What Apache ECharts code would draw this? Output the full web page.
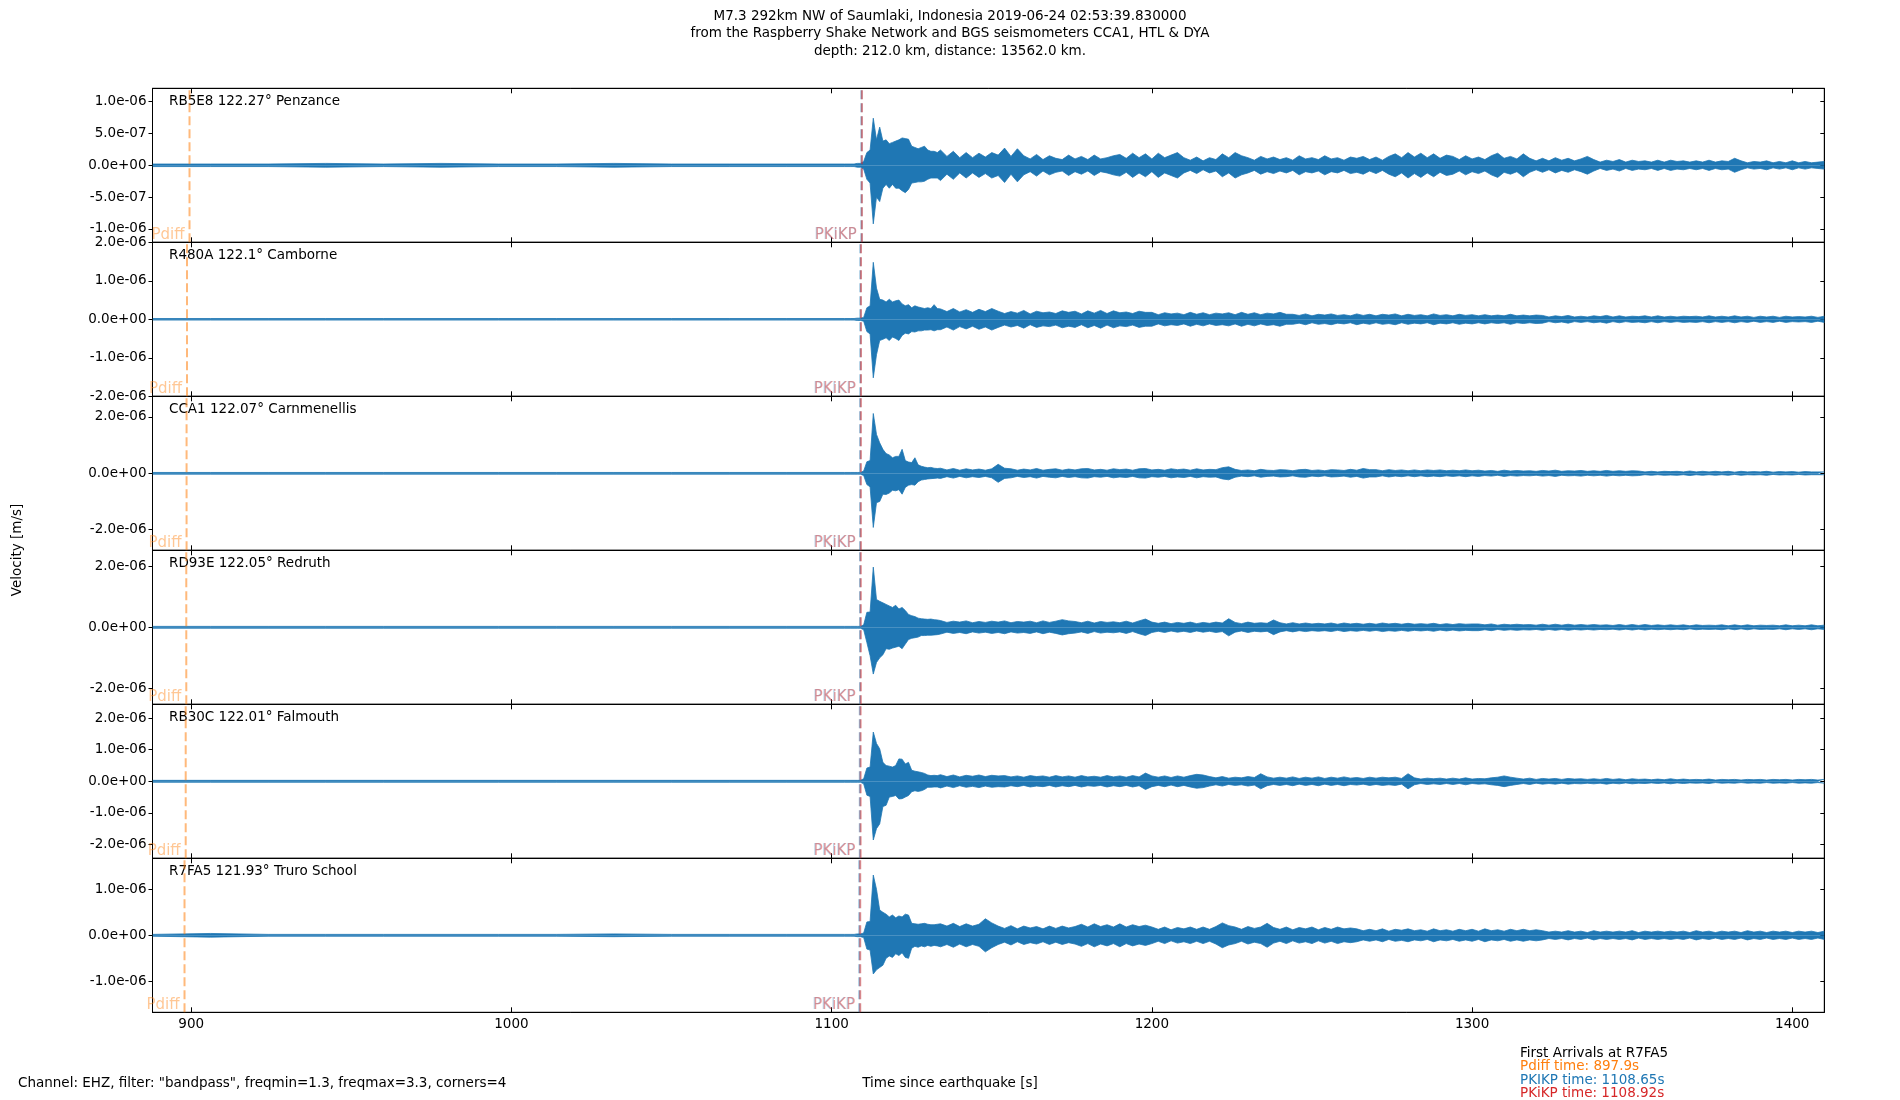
<!DOCTYPE html>
<html>
<head>
<meta charset="utf-8">
<script src="https://cdn.jsdelivr.net/npm/echarts@6/dist/echarts.min.js"></script>
<style>
html, body { margin: 0; padding: 0; background: #fff; }
#chart { width: 1900px; height: 1100px; }
</style>
</head>
<body>
<div id="chart"></div>
<script>
// stations, top to bottom
var stations = ['RB5E8 122.27\u00b0 Penzance', 'R480A 122.1\u00b0 Camborne', 'CCA1 122.07\u00b0 Carnmenellis',
                'RD93E 122.05\u00b0 Redruth', 'RB30C 122.01\u00b0 Falmouth', 'R7FA5 121.93\u00b0 Truro School'];
// arrival times [s]
var pdiffT = [899.46, 898.68, 898.54, 898.45, 898.27, 897.9];
var pkikpT = [1109.30, 1108.97, 1108.91, 1108.88, 1108.80, 1108.65];
var pkikp2T = [1109.45, 1109.17, 1109.13, 1109.10, 1109.04, 1108.92];
// y limits and ticks [m/s]
var yLim = [1.21e-6, 2.0e-6, 2.73e-6, 2.52e-6, 2.44e-6, 1.674e-6];
var yTicks = [
    [-1e-6, -5e-7, 0, 5e-7, 1e-6],
    [-2e-6, -1e-6, 0, 1e-6, 2e-6],
    [-2e-6, 0, 2e-6],
    [-2e-6, 0, 2e-6],
    [-2e-6, -1e-6, 0, 1e-6, 2e-6],
    [-1e-6, 0, 1e-6]
];
var xTicks = [900, 1000, 1100, 1200, 1300, 1400];
var xMin = 887.9, xMax = 1410;

// waveform envelopes, units of 1e-8 m/s
// pre-event noise, every 18 s from 888 s
var pre1 = [2,2,2,3,2,3,2,2,3,2,2,2,2];
var pre2 = [2,2,2,2,2,2,2,2,2,2,2,2,2];
var pre3 = [3,3,3,3,3,3,3,3,3,3,3,3,3];
var pre4 = [3,3,3,3,3,3,3,3,3,3,3,3,3];
var pre5 = [3,3,3,3,3,3,3,3,3,3,3,3,3];
var pre6 = [2,4,2,2,2,2,2,2,3,2,2,2,2];
// onset, every 1 s from 1106 s: upper and lower peaks
var hi1 = [2,2,3,3,6,20,24,74,40,60,38,40,34,36,38,40,43,42,41,30,28,26,28,30,24,22,22,20];
var lo1 = [2,2,3,3,6,22,28,92,50,57,36,30,36,30,36,36,40,43,38,28,27,26,26,25,22,20,20,20];
var hi2 = [2,2,3,3,5,30,35,148,81,52,50,45,52,45,48,50,40,35,38,30,35,32,30,28,30,28,38,28];
var lo2 = [2,2,3,3,5,32,38,152,92,55,52,48,55,46,50,55,42,36,38,32,33,30,30,28,28,27,30,27];
var hi3 = [3,3,3,3,8,41,45,212,138,108,85,70,65,55,60,60,85,45,40,38,55,30,25,22,20,21,18,17];
var lo3 = [3,3,3,3,8,40,48,192,104,100,74,75,70,60,62,58,74,50,42,40,42,30,24,22,20,19,18,17];
var hi4 = [3,3,3,3,8,49,50,197,91,85,80,75,70,65,72,60,65,55,42,38,35,30,28,27,26,27,25,24];
var lo4 = [3,3,3,3,8,50,93,153,115,100,90,70,72,68,65,62,70,55,40,36,34,32,27,27,26,26,25,24];
var hi5 = [3,3,3,3,8,42,45,156,120,103,60,50,48,45,50,71,70,55,60,35,32,30,28,25,20,18,19,18];
var lo5 = [3,3,3,3,8,44,48,186,150,135,80,76,50,48,45,56,55,50,45,33,30,32,30,26,19,19,18,18];
var hi6 = [2,2,3,3,5,29,30,131,100,55,50,46,40,44,38,42,40,46,44,26,25,24,25,26,24,23,23,24];
var lo6 = [2,2,3,3,5,30,32,84,75,70,65,50,45,48,40,44,38,48,50,28,24,26,23,25,22,24,22,23];
// coda, every 2 s from 1134 s
var coda1 = [24,14,22,12,20,12,19,13,20, 16,27,14,26,
    15,10,17,9,15,11,9,16,10,14,9,16,10,12,15, 17,11,19,12,18,10,19,12,16, 20,
    12,8,13,7,12,9, 18,12,20,15,
    12,8,14,10,13,9,12,8,15,10,12,9,15,10,12,8,13,11,14,9,13,8,14,
    18,12,20,13,19,12,18,11,16, 14,9,15,10,13,9,15, 19, 11,14,10, 18,
    11,7,11,7,12,8,11,7,10, 14,
    9,5,8,6,9,5,8,6,7,5,8,5,8,6,7,5,7,5,8,5,7,6, 11,
    7,4,6,5,7,4,6,4,7,4,6,4,5,6];
var coda2 = [27,20,28,19,25,18,26,20,28,
    21,15,20,16,23,14,21,17,19,15,22,18,21,14,22,16,23,15,22,17,19,15,21,18,
    18,12,17,14,16,12,18,13,17,12,16,14,17,12,18,13,17,12,16,14,18,13,
    13,10,14,9,13,11,14,10,12,9,14,10,13,9,13,11,14,9,13,10,12,9,14,10,12,9,13,10,12,9,12,9,11,9,13,9,11,9,11,
    10,6,9,7,10,6,8,6,9,7,10,6,9,6,8,7,9,6,9,6,8,6,8,7,8,6,9,6,8,6,9,6,8,5,8,6,8,5,8,6,7,6,8,5,8];
var coda3 = [18,12,17,11,16,12,15,11,16, 32, 18,
    16,11,15,12,17,11,14,16,11,15,12,16,17,12,14,11,16,13,15,11,16,17,12,14,11,16,13,15,11,16,12,14,13,
    20,23,
    14,10,12,9,14,11,10,13,12,9,13,14,10,12,9,13,12,10,14,11,
    17,13,
    13,9,13,10,12,9,12,9,12,10,12,9,11,9,12,9,
    11,8,10,7,11,8,10,8,9,7,10,8,11,7,9,8,10,7,9,7,10,7,9,7,9,
    8,5,7,5,7,6,7,5,8,5,7,5,7,5,7,4,7,5,6,5,7,4,6,5,6,4,6,5,5,5];
var coda4 = [22,16,20,17,21,15,19,16,20,17,21,15,19,17,20,15,21,16,20, 25,21,
    19,15,20,14,19,16,18,15,20,14,21, 27,
    17,13,17,12,16,13,17,12,16,13,17,14, 28, 16,12,17,13,15,13, 24,
    15,11,15,11,14,11,13,11,14,10,14,11,13,10,13,10,14,11,13,10,13,10,12,10,13,9,12,9,12,10,11,
    11,8,11,7,10,8,10,8,9,7,10,7,10,7,10,7,9,7,9,7,8,6,9,6,9,6,9,6,8,6,8,6,8,5,8,6,7,6,8,5,8,5,8,5,7,6,7,5,8,5,7,5,8,5,7];
var coda5 = [21,15,20,14,19,16,20,15,19,17,18,14,17,13,18,15,17,13,18,14,17,13,18,14,16,13,18,14,17,13,18,14,
    26, 17,13,17,12,17,13,18, 22,20, 15,11,15,10,13,11,15,12, 24,
    14,10,13,10,14,9,13,10,14,9,13,10,14,10,12,9,13,10,13,11,13,9, 24,
    11,7,10,8,10,7,10,7,11,7,9,8,11,13, 17,13,
    10,7,10,6,9,7,9,6,9,7,8,6,8,6,9,6,8,5,8,6,7,5,7,5,8,5,7,5,6,5,7,4,6,5,6,4,6,5,6,4,6,5,6,4,6,5,6,4,6];
var coda6 = [25,20,26,19,25,20,24, 36,27,
    20,15,21,14,20,16,19,14,20,15,20,16,19,
    24,18,25,19,23,18,25,18,23,19,22,
    18,13,18,12,17,14,18,13,18,13,19, 27,21, 18,13,19,15,18, 26,
    17,13,18,12,17,14,18,12,17,13,18,14,16,
    14,10,13,10,14,9,13,11,14,10,12,9,14,10,12,9,13,10,13,9,14,10,12,9,13,10,13,10,12,
    10,7,9,7,10,7,9,6,10,7,9,7,9,7,10,6,9,7,9,7,9,7,9,6,10,7,9,6,9,7,9,6,10,7,9,6,9,7,9,6,9,7,9,6,9];

var pre = [pre1, pre2, pre3, pre4, pre5, pre6];
var hi = [hi1, hi2, hi3, hi4, hi5, hi6];
var lo = [lo1, lo2, lo3, lo4, lo5, lo6];
var coda = [coda1, coda2, coda3, coda4, coda5, coda6];

// bin times
var tPre = [], tHead = [], tCoda = [], t;
for (t = 888; t <= 1104; t += 18) tPre.push(t);
for (t = 1106; t <= 1133; t++) tHead.push(t);
for (t = 1134; t <= 1410; t += 2) tCoda.push(t);
var times = tPre.concat(tHead, tCoda);

var FONT = 'DejaVu Sans';
var FONT_CSS = '13.5px "DejaVu Sans"';
var BLUE = '#1f77b4';
var panelTop = 88.3, panelH = 154, plotLeft = 152.5, plotRight = 75.7;

function fmt(v) {
    if (Math.abs(v) < 1e-15) return '0.0e+00';
    var s = v.toExponential(1).split('e');
    var ex = parseInt(s[1], 10);
    var ab = Math.abs(ex);
    return s[0] + 'e' + (ex < 0 ? '-' : '+') + (ab < 10 ? '0' : '') + ab;
}

var myChart = echarts.init(document.getElementById('chart'));
var grids = [], xAxes = [], yAxes = [], series = [], graphics = [];

for (var i = 0; i < 6; i++) {
    var panelY = panelTop + i * panelH;
    grids.push({left: plotLeft, right: plotRight, top: panelY, height: panelH,
        show: true, borderColor: '#000', borderWidth: 1, backgroundColor: 'transparent'});
    var last = (i === 5);
    // bottom & top x axes, ticks inward
    xAxes.push({type: 'value', gridIndex: i, position: 'bottom', min: xMin, max: xMax,
        axisLine: {show: true, onZero: false, lineStyle: {color: '#000', width: 1}},
        axisTick: {show: true, inside: true, length: 5, customValues: xTicks, lineStyle: {color: '#000'}},
        axisLabel: {show: last, customValues: xTicks, formatter: function (v) { return String(v); },
            color: '#000', fontFamily: FONT, fontSize: 13.5, margin: 5},
        splitLine: {show: false}});
    xAxes.push({type: 'value', gridIndex: i, position: 'top', min: xMin, max: xMax,
        axisLine: {show: true, onZero: false, lineStyle: {color: '#000', width: 1}},
        axisTick: {show: true, inside: true, length: 5, customValues: xTicks, lineStyle: {color: '#000'}},
        axisLabel: {show: false}, splitLine: {show: false}});
    // left & right y axes
    yAxes.push({type: 'value', gridIndex: i, position: 'left', min: -yLim[i], max: yLim[i],
        axisLine: {show: true, onZero: false, lineStyle: {color: '#000', width: 1}},
        axisTick: {show: true, inside: false, length: 4, customValues: yTicks[i], lineStyle: {color: '#000'}},
        axisLabel: {show: true, customValues: yTicks[i], formatter: fmt, color: '#000',
            fontFamily: FONT, fontSize: 13.5, margin: 6},
        splitLine: {show: false}});
    yAxes.push({type: 'value', gridIndex: i, position: 'right', min: -yLim[i], max: yLim[i],
        axisLine: {show: true, onZero: false, lineStyle: {color: '#000', width: 1}},
        axisTick: {show: true, inside: true, length: 4, customValues: yTicks[i], lineStyle: {color: '#000'}},
        axisLabel: {show: false}, splitLine: {show: false}});

    // waveform band: upper and lower peaks filled to zero
    var up = pre[i].concat(hi[i], coda[i]);
    var dn = pre[i].concat(lo[i], coda[i]);
    var upData = [], dnData = [];
    for (var k = 0; k < times.length; k++) {
        upData.push([times[k], up[k] * 1e-8]);
        dnData.push([times[k], -dn[k] * 1e-8]);
    }
    [upData, dnData].forEach(function (d) {
        series.push({type: 'line', xAxisIndex: 2 * i, yAxisIndex: 2 * i, data: d,
            showSymbol: false, symbol: 'none', z: 2,
            lineStyle: {color: BLUE, width: 0.8}, areaStyle: {color: BLUE, opacity: 1, origin: 0}});
    });

    // arrival lines and their labels
    var yl = yLim[i];
    var marks = [
        {t: pdiffT[i], color: 'rgba(255,127,14,0.55)', text: 'rgba(255,127,14,0.55)', name: 'Pdiff'},
        {t: pkikpT[i], color: 'rgba(31,119,180,0.5)', text: 'rgba(31,119,180,0.35)', name: 'PKIKP'},
        {t: pkikp2T[i], color: 'rgba(214,39,40,0.5)', text: 'rgba(214,39,40,0.55)', name: 'PKiKP'}
    ];
    marks.forEach(function (m) {
        series.push({type: 'line', xAxisIndex: 2 * i, yAxisIndex: 2 * i, z: 3,
            data: [[m.t, -yl], [m.t, yl]], showSymbol: false, symbol: 'none',
            lineStyle: {color: m.color, width: 2, type: [9, 4]}});
        series.push({type: 'scatter', xAxisIndex: 2 * i, yAxisIndex: 2 * i, z: 4, clip: false,
            data: [[m.t, -yl]], symbolSize: 0.01, itemStyle: {color: 'rgba(0,0,0,0)'},
            label: {show: true, formatter: m.name, position: [-5, 0], align: 'right', verticalAlign: 'bottom',
                color: m.text, fontFamily: FONT, fontSize: 15}});
    });

    graphics.push({type: 'text', left: 169, top: panelY + 6.5,
        style: {text: stations[i], fill: '#000', font: FONT_CSS}});
}

// figure texts
var titleLines = ['M7.3 292km NW of Saumlaki, Indonesia 2019-06-24 02:53:39.830000',
                  'from the Raspberry Shake Network and BGS seismometers CCA1, HTL & DYA',
                  'depth: 212.0 km, distance: 13562.0 km.'];
titleLines.forEach(function (s, j) {
    graphics.push({type: 'text', x: 950, y: 16 + j * 17.5,
        style: {text: s, fill: '#000', font: FONT_CSS, align: 'center', verticalAlign: 'middle'}});
});
graphics.push({type: 'text', x: 17, y: 550, rotation: Math.PI / 2,
    style: {text: 'Velocity [m/s]', fill: '#000', font: FONT_CSS, align: 'center', verticalAlign: 'middle'}});
graphics.push({type: 'text', x: 18, y: 1083,
    style: {text: 'Channel: EHZ, filter: "bandpass", freqmin=1.3, freqmax=3.3, corners=4', fill: '#000',
        font: FONT_CSS, align: 'left', verticalAlign: 'middle'}});
graphics.push({type: 'text', x: 950, y: 1083,
    style: {text: 'Time since earthquake [s]', fill: '#000', font: FONT_CSS, align: 'center', verticalAlign: 'middle'}});
var arrivalLines = [
    ['First Arrivals at R7FA5', '#000'],
    ['Pdiff time: 897.9s', '#ff7f0e'],
    ['PKIKP time: 1108.65s', '#1f77b4'],
    ['PKiKP time: 1108.92s', '#d62728']
];
arrivalLines.forEach(function (a, j) {
    graphics.push({type: 'text', x: 1520, y: 1053.5 + j * 13.4,
        style: {text: a[0], fill: a[1], font: FONT_CSS, align: 'left', verticalAlign: 'middle'}});
});

var option = {
    animation: false,
    backgroundColor: '#fff',
    grid: grids,
    xAxis: xAxes,
    yAxis: yAxes,
    series: series,
    graphic: graphics
};
myChart.setOption(option);
</script>
</body>
</html>
